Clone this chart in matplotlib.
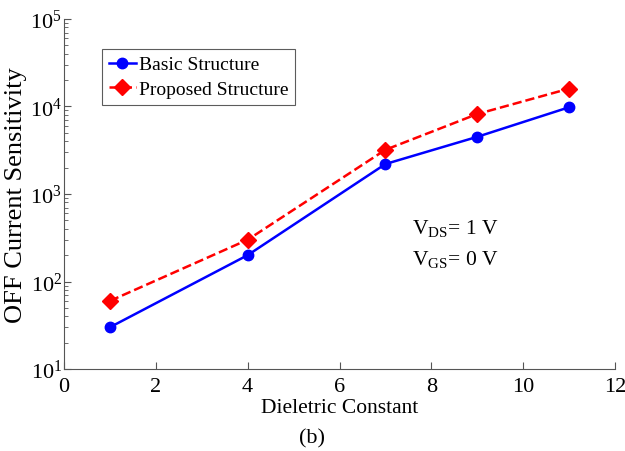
import matplotlib.pyplot as plt

plt.rcParams['font.family'] = ['Liberation Serif', 'DejaVu Serif']
plt.rcParams['mathtext.fontset'] = 'custom'
plt.rcParams['mathtext.rm'] = 'Liberation Serif'

# data
k_values = [1, 4, 7, 9, 11]
basic = [30, 200, 2200, 4500, 9800]
proposed = [60, 300, 3200, 8200, 16000]

fig = plt.figure(figsize=(6.25, 4.52), dpi=100)
ax = fig.add_axes([0.1024, 0.1814, 0.8816, 0.7744])

ax.plot(k_values, basic, color='#0000ff', marker='o', markersize=7.5,
        linewidth=1.8, label='Basic Structure')
ax.plot(k_values, proposed, color='#ff0000', marker='D', markersize=8,
        linestyle='--', linewidth=1.8, label='Proposed Structure')

ax.set_yscale('log')
ax.set_xlim(0, 12)
ax.set_ylim(10, 1e5)
ax.set_xticks([0, 2, 4, 6, 8, 10, 12])
ax.spines['top'].set_visible(False)
ax.spines['right'].set_visible(False)
for s in ['left', 'bottom']:
    ax.spines[s].set_color('#555555')
ax.tick_params(direction='in', which='both', labelsize=16, colors='#555555',
               labelcolor='black')
ax.tick_params(which='major', length=5)
ax.tick_params(which='minor', length=3)
ax.tick_params(axis='x', pad=6)
ax.tick_params(axis='y', pad=1.5)

ax.set_xlabel('Dieletric Constant', fontsize=15.5, labelpad=1)
ax.set_ylabel('OFF Current Sensitivity', fontsize=19, labelpad=2)

leg = ax.legend(loc='upper left', bbox_to_anchor=(0.069, 0.914), fontsize=14,
                frameon=True, fancybox=False, handlelength=1.4,
                handletextpad=0.15, borderpad=0.35, labelspacing=0.35,
                borderaxespad=0)
leg.get_frame().set_edgecolor('#333333')
leg.get_frame().set_linewidth(0.8)

ax.text(0.632, 0.388, r'V$_{\mathrm{DS}}$= 1 V', transform=ax.transAxes, fontsize=15.5)
ax.text(0.632, 0.298, r'V$_{\mathrm{GS}}$= 0 V', transform=ax.transAxes, fontsize=15.5)

fig.text(0.478, 0.018, '(b)', fontsize=16)

fig.savefig('out.png', dpi=100)
